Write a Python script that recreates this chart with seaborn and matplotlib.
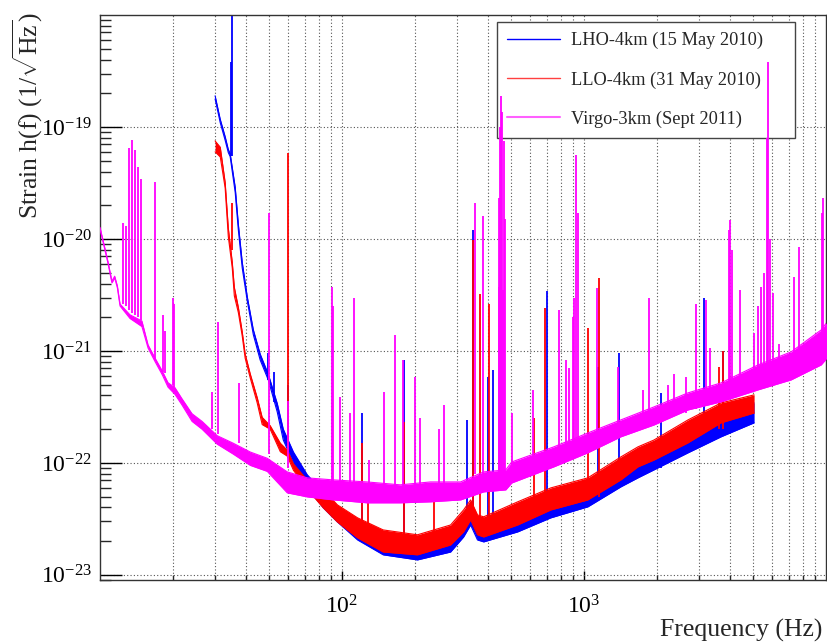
import numpy as np
import pandas as pd
import seaborn as sns
import matplotlib
matplotlib.use("Agg")
import matplotlib.pyplot as plt
from matplotlib.lines import Line2D
from matplotlib.ticker import FixedLocator, LogLocator, NullFormatter

# LHO-4km (15 May 2010): noise floor, upper and lower edge of the band
lho_freq = [29.9, 31.4, 32.9, 33.9, 34.5, 36.2, 37.3, 38.7, 40.6, 43.0, 45.9, 49.6, 54.0, 57.2,
            63.0, 71.9, 83.7, 95.7, 116, 148, 205, 281, 318, 340, 363, 385, 532, 729, 1037,
            1420, 1670, 1945, 2689, 3684, 5045]
lho_hi = [1.90e-19, 1.17e-19, 8.20e-20, 6.30e-20, 5.80e-20, 2.90e-20, 1.35e-20, 6.20e-21, 3.05e-21,
          1.55e-21, 9.40e-22, 6.20e-22, 3.40e-22, 2.00e-22, 1.25e-22, 7.82e-23, 5.51e-23, 4.05e-23,
          3.10e-23, 2.18e-23, 2.05e-23, 2.42e-23, 3.43e-23, 4.22e-23, 3.10e-23, 2.91e-23, 3.80e-23,
          4.97e-23, 6.11e-23, 9.21e-23, 1.06e-22, 1.23e-22, 1.85e-22, 2.58e-22, 3.43e-22]
lho_lo = [1.78e-19, 1.09e-19, 7.60e-20, 5.90e-20, 5.45e-20, 2.60e-20, 1.20e-20, 5.50e-21, 2.80e-21,
          1.40e-21, 8.30e-22, 5.50e-22, 2.85e-22, 1.60e-22, 1.00e-22, 5.98e-23, 3.97e-23, 2.97e-23,
          2.05e-23, 1.51e-23, 1.36e-23, 1.60e-23, 2.18e-23, 2.79e-23, 2.05e-23, 1.97e-23, 2.42e-23,
          3.23e-23, 4.05e-23, 6.11e-23, 7.35e-23, 8.66e-23, 1.23e-22, 1.71e-22, 2.28e-22]
# LHO lines: frequency, foot, peak
lho_line_f = [34.9, 35.2, 49.6, 52.5, 60.0, 121.5, 181, 330, 347, 400, 419, 700, 1140, 1393,
              2080, 3133, 3754]
lho_line_base = [5.5e-20, 5.5e-20, 5.5e-22, 3.5e-22, 1.1e-22, 2.5e-23, 2.0e-23, 3e-23, 3e-23,
                 3e-23, 3e-23, 4e-23, 5e-23, 6e-23, 9e-23, 1.5e-22, 2e-22]
lho_line_peak = [3.8e-19, 1.5e-18, 9.6e-22, 6.5e-22, 5.0e-22, 2.8e-22, 8.3e-22, 2.4e-22, 1.2e-20,
                 5.9e-22, 6.8e-22, 3.4e-21, 7.2e-22, 9.6e-22, 4.2e-22, 3.0e-21, 1.0e-21]

# LLO-4km (31 May 2010)
llo_freq = [29.9, 31.4, 32.9, 33.9, 35.2, 35.9, 37.3, 38.7, 39.8, 41.8, 44.6, 46.8, 50.5, 55.6,
            59.4, 63.0, 71.9, 83.7, 95.7, 116, 148, 205, 281, 318, 340, 363, 385, 532, 729, 1037,
            1420, 1670, 1945, 2689, 3684, 5045]
llo_hi = [7.50e-20, 6.60e-20, 3.20e-20, 1.25e-20, 6.20e-21, 3.70e-21, 2.45e-21, 1.48e-21, 9.40e-22,
          6.20e-22, 3.85e-22, 2.55e-22, 2.15e-22, 1.50e-22, 1.30e-22, 9.80e-23, 7.00e-23, 5.74e-23,
          4.22e-23, 3.23e-23, 2.52e-23, 2.28e-23, 2.79e-23, 3.80e-23, 4.67e-23, 3.43e-23, 3.30e-23,
          4.49e-23, 5.98e-23, 7.35e-23, 1.13e-22, 1.39e-22, 1.60e-22, 2.42e-22, 3.43e-22, 4.05e-22]
llo_lo = [6.00e-20, 5.40e-20, 2.85e-20, 1.05e-20, 5.50e-21, 3.10e-21, 2.20e-21, 1.36e-21, 8.60e-22,
          5.70e-22, 3.45e-22, 2.20e-22, 2.00e-22, 1.26e-22, 1.15e-22, 8.60e-23, 5.80e-23, 3.97e-23,
          2.97e-23, 2.14e-23, 1.60e-23, 1.51e-23, 1.85e-23, 2.42e-23, 3.10e-23, 2.28e-23, 2.18e-23,
          2.79e-23, 3.80e-23, 4.67e-23, 7.05e-23, 9.21e-23, 1.06e-22, 1.51e-22, 2.28e-22, 2.79e-22]
llo_line_f = [35.0, 60.0, 121.5, 128.6, 180, 239, 347, 370, 404, 620, 688, 1037, 1151, 3614, 3754]
llo_line_base = [8e-21, 1.1e-22, 2.5e-23, 2.5e-23, 2e-23, 2e-23, 3e-23, 3e-23, 3e-23, 4e-23,
                 4e-23, 5e-23, 5e-23, 2e-22, 2e-22]
llo_line_peak = [2.1e-20, 5.9e-20, 1.5e-22, 5.5e-23, 2.3e-22, 4.7e-23, 9.8e-21, 3.2e-21, 2.6e-21,
                 2.5e-22, 2.4e-21, 1.6e-21, 4.5e-21, 7.2e-22, 1.0e-21]

# Virgo-3km (Sept 2011)
virgo_freq = [10.0, 10.5, 10.8, 11.2, 11.5, 11.8, 12.1, 13.3, 14.9, 15.8, 16.9, 18.1, 19.1, 20.4,
              21.8, 24.0, 26.4, 30.5, 35.5, 41.8, 49.1, 59.4, 71.9, 92.1, 127, 174, 232, 309, 385,
              475, 503, 750, 1037, 1420, 1945, 2689, 3684, 5241, 7177, 9552, 10116]
virgo_hi = [1.27e-20, 8.10e-21, 6.20e-21, 4.20e-21, 4.65e-21, 3.80e-21, 2.62e-21, 2.10e-21, 1.85e-21,
            1.13e-21, 8.60e-22, 6.60e-22, 5.20e-22, 4.70e-22, 3.75e-22, 2.75e-22, 2.35e-22, 1.75e-22,
            1.50e-22, 1.25e-22, 1.10e-22, 8.31e-23, 7.35e-23, 7.05e-23, 6.76e-23, 6.37e-23, 6.76e-23,
            6.76e-23, 8.31e-23, 8.66e-23, 1.02e-22, 1.39e-22, 1.85e-22, 2.42e-22, 3.16e-22, 4.22e-22,
            5.18e-22, 7.50e-22, 9.80e-22, 1.54e-21, 1.82e-21]
virgo_lo = [1.23e-20, 7.80e-21, 6.00e-21, 4.05e-21, 4.50e-21, 3.65e-21, 2.52e-21, 1.95e-21, 1.65e-21,
            1.06e-21, 8.00e-22, 6.10e-22, 4.75e-22, 4.10e-22, 3.30e-22, 2.35e-22, 2.00e-22, 1.47e-22,
            1.20e-22, 9.50e-23, 8.40e-23, 5.40e-23, 4.97e-23, 4.67e-23, 4.40e-23, 4.40e-23, 4.49e-23,
            4.67e-23, 5.51e-23, 5.74e-23, 6.62e-23, 9.21e-23, 1.23e-22, 1.71e-22, 2.18e-22, 2.97e-22,
            3.51e-22, 4.49e-22, 5.51e-22, 7.50e-22, 8.66e-22]
virgo_line_f = [12.5, 12.8, 13.2, 13.6, 14.0, 14.4, 14.8, 16.9, 18.2, 18.6, 20.0, 20.3, 29.1, 30.8,
                37.6, 50.1, 60.0, 91.3, 92.0, 98.5, 108, 112.5, 129.8, 149, 166, 179, 201, 211,
                251, 263, 353, 381, 444, 446, 448, 450, 453, 456, 459, 462, 466, 470, 502, 614,
                787, 841, 865, 899, 912, 925, 942, 1130, 1380, 1760, 1855, 2223, 2353, 2640, 2900,
                3193, 3330, 3980, 4020, 4070, 4415, 5045, 5241, 5393, 5549, 5720, 5767, 5850,
                6047, 6400, 7386, 7745, 9650, 9734]
virgo_line_base = [2.6e-21, 2.5e-21, 2.3e-21, 2.2e-21, 2.1e-21, 2.0e-21, 1.9e-21, 8.3e-22, 6.5e-22,
                   6.3e-22, 5.0e-22, 4.8e-22, 2.0e-22, 1.8e-22, 1.5e-22, 1.2e-22, 9e-23, 6e-23,
                   6e-23, 6e-23, 6e-23, 6e-23, 6e-23, 6e-23, 6e-23, 6e-23, 6e-23, 6e-23, 6e-23,
                   6e-23, 8e-23, 8e-23, 8e-23, 8e-23, 8e-23, 8e-23, 8e-23, 8e-23, 8e-23, 8e-23,
                   8e-23, 8e-23, 8e-23, 1e-22, 1.1e-22, 1.2e-22, 1.2e-22, 1.3e-22, 1.3e-22,
                   1.3e-22, 1.3e-22, 1.5e-22, 1.7e-22, 2.0e-22, 2.1e-22, 2.5e-22, 2.6e-22, 2.8e-22,
                   3.0e-22, 3.2e-22, 3.3e-22, 3.8e-22, 3.8e-22, 3.8e-22, 4.2e-22, 4.5e-22, 4.6e-22,
                   4.7e-22, 4.8e-22, 5.0e-22, 5.0e-22, 5.0e-22, 5.2e-22, 6.0e-22, 7.0e-22, 7.0e-22,
                   1.0e-21, 1.0e-21]
virgo_line_peak = [1.39e-20, 1.3e-20, 6.5e-20, 7.7e-20, 6.2e-20, 4.4e-20, 3.4e-20, 3.2e-20, 2.1e-21,
                   1.5e-21, 3.0e-21, 2.6e-21, 4.3e-22, 1.8e-21, 5.2e-22, 1.7e-20, 3.6e-22, 3.7e-21,
                   2.5e-21, 3.9e-22, 2.8e-22, 3.0e-21, 1.06e-22, 4.3e-22, 1.39e-21, 8.3e-22, 5.9e-22,
                   2.5e-22, 2.0e-22, 3.3e-22, 2.1e-20, 1.6e-20, 2.3e-20, 3.7e-21, 1.0e-19, 4.0e-21,
                   1.9e-19, 4.4e-21, 1.36e-19, 3.5e-21, 7.5e-20, 1.5e-20, 2.8e-22, 4.5e-22, 2.3e-21,
                   8.3e-22, 7.0e-22, 2.0e-21, 3.0e-21, 5.6e-20, 1.7e-20, 3.65e-21, 7.2e-22, 4.5e-22,
                   3.0e-21, 5.0e-22, 6.2e-22, 5.9e-22, 2.6e-21, 2.85e-21, 1.06e-21, 1.2e-20, 1.48e-20,
                   8.0e-21, 3.5e-21, 1.45e-21, 2.5e-21, 3.7e-21, 5.0e-21, 8.0e-20, 3.8e-19, 1.0e-20,
                   3.3e-21, 1.15e-21, 4.6e-21, 8.5e-21, 1.7e-20, 2.3e-20]

y_major = [1e-23, 1e-22, 1e-21, 1e-20, 1e-19]
y_major_labels = ["10^{-23}", "10^{-22}", "10^{-21}", "10^{-20}", "10^{-19}"]
x_major = [100, 1000]
x_major_labels = ["10^{2}", "10^{3}"]

sns.set_theme(style="white")
plt.rcParams["font.family"] = ["Liberation Serif", "DejaVu Serif"]
plt.rcParams["mathtext.fontset"] = "custom"
plt.rcParams["mathtext.rm"] = "Liberation Serif"
plt.rcParams["mathtext.it"] = "Liberation Serif:italic"
plt.rcParams["axes.unicode_minus"] = False

W, H = 827, 644
fig = plt.figure(figsize=(W / 100, H / 100), dpi=100)
fig.patch.set_facecolor("white")
ax = fig.add_axes([100 / W, 64 / H, 726 / W, 565 / H])
ax.set_facecolor("white")
ax.set_xscale("log")
ax.set_yscale("log")


def draw_detector(freq, hi, lo, lf, lb, lp, color, z):
    df = pd.DataFrame({"freq": freq, "hi": hi, "lo": lo})
    ax.fill_between(df["freq"], df["lo"], df["hi"], color=color, lw=0, zorder=z)
    for col in ["hi", "lo"]:
        sns.lineplot(data=df, x="freq", y=col, color=color, lw=0.8, ax=ax,
                     estimator=None, sort=False, zorder=z, legend=False)
    ax.vlines(lf, lb, lp, color=color, lw=1.3, zorder=z)


draw_detector(lho_freq, lho_hi, lho_lo, lho_line_f, lho_line_base, lho_line_peak, "#0000ff", 2)
draw_detector(llo_freq, llo_hi, llo_lo, llo_line_f, llo_line_base, llo_line_peak, "#ff0000", 3)
draw_detector(virgo_freq, virgo_hi, virgo_lo, virgo_line_f, virgo_line_base, virgo_line_peak,
              "#ff00ff", 5)

ax.set_xlim(10, 1.0e4)
ax.set_ylim(9.0e-24, 1.0e-18)

ax.xaxis.set_major_locator(FixedLocator(x_major))
ax.xaxis.set_minor_locator(LogLocator(base=10, subs=range(2, 10)))
ax.xaxis.set_minor_formatter(NullFormatter())
ax.set_xticklabels([r"$\mathregular{%s}$" % s for s in x_major_labels])
ax.yaxis.set_major_locator(FixedLocator(y_major))
ax.yaxis.set_minor_locator(LogLocator(base=10, subs=range(2, 10)))
ax.yaxis.set_minor_formatter(NullFormatter())
ax.set_yticklabels([r"$\mathregular{%s}$" % s for s in y_major_labels])

ax.tick_params(axis="y", which="major", direction="in", length=16, width=1, left=True,
               right=False, pad=6, labelsize=17, colors="black")
ax.tick_params(axis="y", which="minor", direction="in", length=8, width=1, left=True, right=False)
ax.tick_params(axis="x", which="major", direction="in", length=6.5, width=1, bottom=True,
               top=False, pad=11, labelsize=17, colors="black")
ax.tick_params(axis="x", which="minor", direction="in", length=3.6, width=1, bottom=True, top=False)

ax.set_axisbelow(True)
grid_kw = dict(color="#555555", lw=0.8, linestyle=(0, (1, 2)))
ax.grid(True, axis="x", which="both", **grid_kw)
ax.grid(True, axis="y", which="major", **grid_kw)
for s in ax.spines.values():
    s.set_visible(True)
    s.set_color("#333333")
    s.set_linewidth(1.0)

ax.set_xlabel("")
ax.set_ylabel("")
fig.text(28 / W, 1 - 12 / H, r"Strain h(f) (1/$\sqrt{\mathrm{Hz}}$)", rotation=90,
         ha="center", va="top", fontsize=18.5)
fig.text(822 / W, 1 - 630 / H, "Frequency (Hz)", ha="right", va="center", fontsize=18.5)

handles = [Line2D([], [], color="#0000ff", lw=1.0),
           Line2D([], [], color="#ff4040", lw=1.0),
           Line2D([], [], color="#ff60ff", lw=1.5)]
labels = ["LHO-4km (15 May 2010)", "LLO-4km (31 May 2010)", "Virgo-3km (Sept 2011)"]
leg = ax.legend(handles, labels, loc="upper left",
                bbox_to_anchor=(497 / W, 1 - 141 / H, 298 / W, 119 / H),
                bbox_transform=fig.transFigure, mode="expand", borderaxespad=0,
                frameon=True, fancybox=False, edgecolor="#444444", framealpha=1,
                fontsize=13.2, handlelength=2.9, handletextpad=0.6, labelspacing=1.19,
                borderpad=0.55)
leg.get_frame().set_linewidth(1.0)
leg.set_zorder(4)

fig.savefig("out.png", dpi=100)
